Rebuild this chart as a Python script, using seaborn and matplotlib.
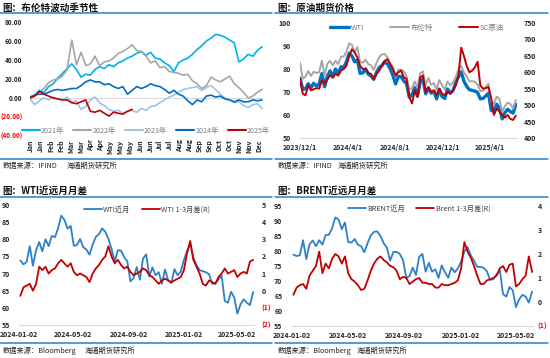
import numpy as np
import pandas as pd
import matplotlib
matplotlib.use("Agg")
import matplotlib.pyplot as plt
import seaborn as sns
from matplotlib.lines import Line2D

# ---------------- data ----------------
# panel 1: Brent seasonality, values every 5 trading days from the first day of the year
season_labels = ["2021年", "2022年", "2023年", "2024年", "2025年"]
season_2021 = [0, 3, 8, 6, 12, 15, 21, 26, 31, 36, 30, 22, 25, 24, 30, 33, 31, 35, 33, 37,
               39, 42, 44, 47, 49, 45, 48, 42, 41, 37, 34, 28, 37, 40, 42, 46, 51, 55, 60, 63,
               67, 66, 64, 61, 58, 38, 41, 46, 44, 50, 54]
season_2022 = [1, 3, 6, 10, 16, 19, 20, 23, 30, 61, 35, 48, 34, 36, 44, 34, 38, 39, 42, 47,
               49, 52, 56, 50, 49, 44, 37, 39, 32, 33, 28, 27, 26, 24, 25, 18, 15, 10, 13, 22,
               19, 17, 20, 23, 15, 11, 6, 0, 2, 6, 9]
season_2023 = [-1, -7, -3, 0, -2, 1, -1, -2, 1, -4, -3, -12, -9, -2, 1, -5, -8, -12, -14, -13,
               -16, -14, -13, -15, -11, -13, -9, -8, -5, -2, 1, 3, 6, 9, 10, 11, 12, 8, 11, 13,
               9, 4, 0, -2, -5, -4, -8, -10, -7, -6, -11]
season_2024 = [1, 3, 4, 4, 6, 8, 9, 8, 9, 10, 10, 13, 17, 19, 17, 17, 14, 15, 12, 10,
               12, 4, 8, 12, 10, 12, 15, 13, 12, 9, 5, 8, 4, 2, -3, -7, -2, -4, 2, 3,
               1, 2, -1, -2, -4, -2, -4, -4, -2, -3, -2]
season_2025 = [0, 2, 7, 4, 2, 0, -1, -2, -2, -5, -6, -4, -2, -14, -15, -13, -16, -19, -15, -16,
               -17, -14, -12]
month_labels = ["Jan", "Jan", "Feb", "Feb", "Mar", "Mar", "Apr", "Apr", "May", "May", "May", "Jun",
                "Jun", "Jul", "Jul", "Aug", "Aug", "Sep", "Sep", "Oct", "Oct", "Nov", "Nov", "Dec"]

# panel 2: weekly futures prices from 2023-12-01
price_start = "2023-12-01"
wti_price = [76.0, 71.2, 71.4, 73.6, 71.7,
             73.8, 72.7, 73.4, 78.0, 72.3, 76.8, 79.2, 76.5, 80.0, 78.0, 81.0, 80.6, 83.2,
             86.9, 85.7, 83.1, 83.9, 78.1, 78.3, 80.1, 77.7, 77.0, 75.5, 78.5, 80.7, 81.5,
             83.2, 82.2, 80.1, 77.2, 73.5, 76.8, 76.7, 74.8, 73.6, 67.7, 68.7, 71.9, 68.2,
             74.4, 75.6, 69.2, 71.8, 69.5, 70.4, 67.0, 71.2, 68.0, 67.2, 71.3, 69.5, 70.6,
             74.0, 76.6, 78.8, 74.7, 72.5, 71.0, 70.7, 70.4, 69.8, 67.0, 67.2, 68.3, 69.4,
             62.0, 61.5, 64.7, 63.0, 58.3, 61.0, 62.5, 61.5, 60.8, 64.6]
brent_price = [82.8, 75.8, 76.6, 79.1, 77.0,
               78.8, 78.3, 78.6, 83.6, 77.3, 82.2, 83.5, 81.6, 83.6, 82.1, 85.3, 85.4, 87.5,
               91.2, 90.5, 87.3, 89.5, 83.0, 82.8, 84.0, 82.1, 81.6, 79.6, 82.6, 85.2, 86.4,
               86.5, 85.0, 82.6, 81.1, 76.8, 79.7, 79.7, 79.0, 76.9, 71.1, 71.6, 74.5, 72.0,
               78.1, 79.0, 73.1, 76.1, 73.1, 73.9, 71.0, 75.2, 72.9, 71.1, 74.5, 72.9, 74.2,
               76.5, 79.8, 81.3, 78.5, 76.8, 74.7, 74.7, 74.4, 73.2, 70.4, 70.6, 72.2, 73.6,
               65.6, 64.8, 68.0, 66.9, 61.3, 63.9, 65.4, 64.8, 62.8, 66.5]
sc_price = [580, 535, 530, 560, 545,
            548, 552, 550, 575, 565, 578, 590, 585, 595, 590, 605, 610, 620,
            650, 670, 660, 645, 620, 610, 610, 598, 595, 580, 595, 605, 620,
            635, 640, 625, 610, 590, 600, 605, 585, 580, 525, 505, 545, 525,
            585, 590, 540, 555, 540, 545, 530, 550, 535, 530, 540, 535, 545,
            560, 590, 675, 650, 620, 600, 605, 615, 632, 560, 550, 552, 555,
            520, 470, 490, 480, 470, 462, 470, 458, 455, 468]
price_ticks = ["2023-12-01", "2024-04-01", "2024-08-01", "2024-12-01", "2025-04-01"]
price_tick_labels = ["2023/12/1", "2024/4/1", "2024/8/1", "2024/12/1", "2025/4/1"]

# panels 3/4: weekly near-month price and 1-3 month spread from 2024-01-05
spread_start = "2024-01-05"
wti_front = wti_price[5:]
wti_spread = [-0.3, 0.2, 0.3, 0.4, 0.0, 0.4, 1.4, 1.2, 1.4, 1.0, 1.2, 1.3, 1.6, 1.8, 1.6,
              1.4, 1.6, 1.1, 0.9, 1.0, 0.9, 0.8, 0.5, 1.0, 1.3, 1.5, 1.8, 2.0, 2.6, 2.0,
              1.6, 1.8, 1.5, 1.3, 1.4, 1.1, 0.9, 1.0, 1.1, 1.3, 1.2, 0.9, 0.8, 0.6, 0.4,
              0.6, 0.7, 0.6, 0.5, 0.6, 0.7, 0.8, 1.2, 2.2, 2.9, 1.8, 1.4, 1.0, 0.4, 0.3,
              0.6, 0.5, 0.4, 0.8, 1.0, 1.3, 1.0, 1.1, 1.2, 0.8, 1.0, 1.1, 1.0, 1.7, 1.8]
brent_front = brent_price[5:]
brent_spread = [0.3, 0.6, 0.7, 0.75, 0.55, 1.1, 1.3, 1.5, 2.1, 1.2, 1.6, 1.4, 1.8, 2.0, 1.9,
                1.6, 1.9, 1.2, 0.95, 0.85, 0.7, 0.5, 0.55, 0.9, 1.3, 1.6, 1.8, 1.9, 1.75, 1.65,
                1.5, 1.45, 1.3, 0.95, 1.05, 1.0, 0.75, 0.85, 0.95, 1.0, 0.8, 0.8, 0.75, 0.75, 0.6,
                0.6, 0.75, 0.7, 0.7, 0.75, 0.8, 0.9, 1.4, 2.5, 2.1, 1.85, 1.5, 1.1, 0.75, 0.75,
                0.9, 0.95, 1.0, 1.1, 1.4, 1.5, 1.25, 1.55, 1.6, 0.65, 0.75, 0.95, 1.1, 1.9, 1.25]
spread_ticks = ["2024-01-02", "2024-05-02", "2024-09-02", "2025-01-02", "2025-05-02"]

# ---------------- style ----------------
sns.set_style("white")
plt.rcParams["font.family"] = ["Noto Sans CJK SC", "DejaVu Sans"]
plt.rcParams["axes.unicode_minus"] = False

W, H = 550, 358
RULE = "#2E7DC4"
TXT = "#262626"
NEG = "#FF0000"
AXIS = "#D9D9D9"


def rect(l, t, r, b):
    return [l / W, 1 - b / H, (r - l) / W, (b - t) / H]


def fx(x):
    return x / W


def fy(y):
    return 1 - y / H


fig = plt.figure(figsize=(W / 100, H / 100), dpi=100)


def frame(x0, x1, y_title, y_rule, y_foot_rule, y_foot, title, source, org_x):
    fig.text(fx(x0 + 2), fy(y_title), title, fontsize=6.9, fontweight="bold",
             ha="left", va="center", color="#111111")
    for yy in (y_rule, y_foot_rule):
        fig.add_artist(Line2D([fx(x0), fx(x1)], [fy(yy), fy(yy)],
                              transform=fig.transFigure, color=RULE, lw=1.1))
    fig.text(fx(x0 + 3), fy(y_foot), source, fontsize=5.2, ha="left", va="center", color=TXT)
    fig.text(fx(org_x), fy(y_foot), "海通期货研究所", fontsize=5.2, ha="left", va="center", color=TXT)


def paren(v, fmt="{:g}"):
    return "(" + fmt.format(-v) + ")" if v < 0 else fmt.format(v)


def style_yticks(ax, ticks, fmt, pad, right=False, size=5):
    ax.set_yticks(ticks)
    ax.set_yticklabels([paren(t, fmt) for t in ticks], fontsize=size, fontweight="bold")
    for lab, t in zip(ax.get_yticklabels(), ticks):
        lab.set_color(NEG if t < 0 else TXT)
    ax.tick_params(axis="y", length=0, pad=pad)
    if right:
        ax.yaxis.tick_right()


def clean(ax, bottom=True):
    for s in ax.spines.values():
        s.set_visible(False)
    if bottom:
        ax.spines["bottom"].set_visible(True)
        ax.spines["bottom"].set_color(AXIS)
        ax.spines["bottom"].set_linewidth(0.8)
    ax.set_xlabel("")
    ax.set_ylabel("")
    ax.set_facecolor("none")


# ---------------- panel 1: seasonality ----------------
frame(0, 272, 7.5, 13, 159, 166, "图：布伦特波动季节性", "数据来源：IFIND", 67)
ax = fig.add_axes(rect(30, 22, 263, 136))
season_series = [season_2021, season_2022, season_2023, season_2024, season_2025]
season_colors = ["#00B0F0", "#A6A6A6", "#9DC3E6", "#0070C0", "#C00000"]
ax.axhline(0, color=AXIS, lw=0.8, zorder=0)
for vals, lab, col in zip(season_series, season_labels, season_colors):
    sns.lineplot(x=np.arange(len(vals)) * 5, y=vals, ax=ax, color=col, lw=1.2, label=lab)
ax.set_xlim(0, 251)
ax.set_ylim(-40, 80)
clean(ax, bottom=False)
style_yticks(ax, [-40, -20, 0, 20, 40, 60, 80], "{:.2f}", pad=5.5, size=4.7)
ax.set_xticks(np.arange(len(month_labels)) * 10.7 + 0.8)
ax.set_xticklabels(month_labels, rotation=90, fontsize=5, fontweight="bold", color=TXT)
ax.tick_params(axis="x", length=0, pad=2.5)
leg = ax.legend(loc="center", bbox_to_anchor=(fx(146), fy(131)), bbox_transform=fig.transFigure,
                ncol=5, frameon=False, fontsize=5.2, handlelength=2.5, handletextpad=0.2,
                columnspacing=1.2, labelcolor="#7F7F7F", borderpad=0)
for ln in leg.get_lines():
    ln.set_linewidth(1.5)

# ---------------- panel 2: futures prices ----------------
frame(275, 548, 7.5, 13, 159, 166, "图：原油期货价格", "数据来源：IFIND", 338)
price_dates = pd.date_range(price_start, periods=len(wti_price), freq="W-FRI")
ax = fig.add_axes(rect(300, 23, 517, 138))
sns.lineplot(x=price_dates, y=wti_price, ax=ax, color="#0070C0", lw=2.4, label="WTI")
sns.lineplot(x=price_dates, y=brent_price, ax=ax, color="#A6A6A6", lw=1.4, label="布伦特")
ax2 = ax.twinx()
sns.lineplot(x=price_dates, y=sc_price, ax=ax2, color="#C00000", lw=1.4, label="SC原油")
ax.set_xlim(pd.Timestamp("2023-12-01"), pd.Timestamp("2025-06-09"))
ax.set_ylim(50, 100)
ax2.set_ylim(400, 750)
clean(ax)
clean(ax2, bottom=False)
style_yticks(ax, list(range(50, 101, 10)), "{:g}", pad=6.5)
style_yticks(ax2, list(range(400, 751, 50)), "{:g}", pad=5, right=True)
ax.set_xticks(pd.to_datetime(price_ticks))
ax.set_xticklabels(price_tick_labels, fontsize=5, fontweight="bold", color=TXT)
ax.tick_params(axis="x", direction="in", length=2, color=AXIS, pad=4)
h1, l1 = ax.get_legend_handles_labels()
h2, l2 = ax2.get_legend_handles_labels()
if ax.get_legend():
    ax.get_legend().remove()
leg = ax2.legend(h1 + h2, l1 + l2, loc="center", bbox_to_anchor=(fx(417), fy(28)),
                 bbox_transform=fig.transFigure, ncol=3, frameon=False, fontsize=5.4,
                 handlelength=2.6, handletextpad=0.2, columnspacing=3.4,
                 labelcolor="#7F7F7F", borderpad=0)

# ---------------- panels 3/4: spreads ----------------
spread_dates = pd.date_range(spread_start, periods=len(wti_front), freq="W-FRI")


def spread_panel(x0, x1, box, front, spread, names, ylim, y2lim, ycenter_leg, xleg,
                 pad_l, pad_r, title, org_x):
    frame(x0, x1, 191, 197, 343, 351, title, "数据来源：Bloomberg", org_x)
    ax = fig.add_axes(rect(*box))
    sns.lineplot(x=spread_dates, y=front, ax=ax, color="#2E80C8", lw=1.3, label=names[0])
    ax2 = ax.twinx()
    sns.lineplot(x=spread_dates, y=spread, ax=ax2, color="#C00000", lw=1.3, label=names[1])
    ax.set_xlim(pd.Timestamp("2024-01-02"), pd.Timestamp("2025-06-08"))
    ax.set_ylim(*ylim)
    ax2.set_ylim(*y2lim)
    clean(ax)
    clean(ax2, bottom=False)
    style_yticks(ax, list(range(ylim[0], ylim[1] + 1, 5)), "{:g}", pad=pad_l)
    style_yticks(ax2, list(range(y2lim[0], y2lim[1] + 1)), "{:g}", pad=pad_r, right=True)
    ax.set_xticks(pd.to_datetime(spread_ticks))
    ax.set_xticklabels(spread_ticks, fontsize=5, fontweight="bold", color=TXT)
    ax.tick_params(axis="x", direction="in", length=2, color=AXIS, pad=4)
    h1, l1 = ax.get_legend_handles_labels()
    h2, l2 = ax2.get_legend_handles_labels()
    if ax.get_legend():
        ax.get_legend().remove()
    ax2.legend(h1 + h2, l1 + l2, loc="center", bbox_to_anchor=(fx(xleg), fy(ycenter_leg)),
               bbox_transform=fig.transFigure, ncol=2, frameon=False, fontsize=5.2,
               handlelength=2.5, handletextpad=0.2, columnspacing=1.6,
               labelcolor="#404040", borderpad=0)


spread_panel(0, 272, (19, 205, 254, 325), wti_front, wti_spread, ["WTI近月", "WTI 1-3月差(R)"],
             (55, 90), (-2, 5), 210, 147, 6.5, 5.5, "图：WTI近远月月差", 85)
spread_panel(275, 548, (292, 206, 533, 326), brent_front, brent_spread,
             ["BRENT近月", "Brent 1-3月差(R)"], (55, 95), (-1, 4), 209, 419, 7, 3.5,
             "图：BRENT近远月月差", 357)

fig.savefig("out.png", dpi=100)
